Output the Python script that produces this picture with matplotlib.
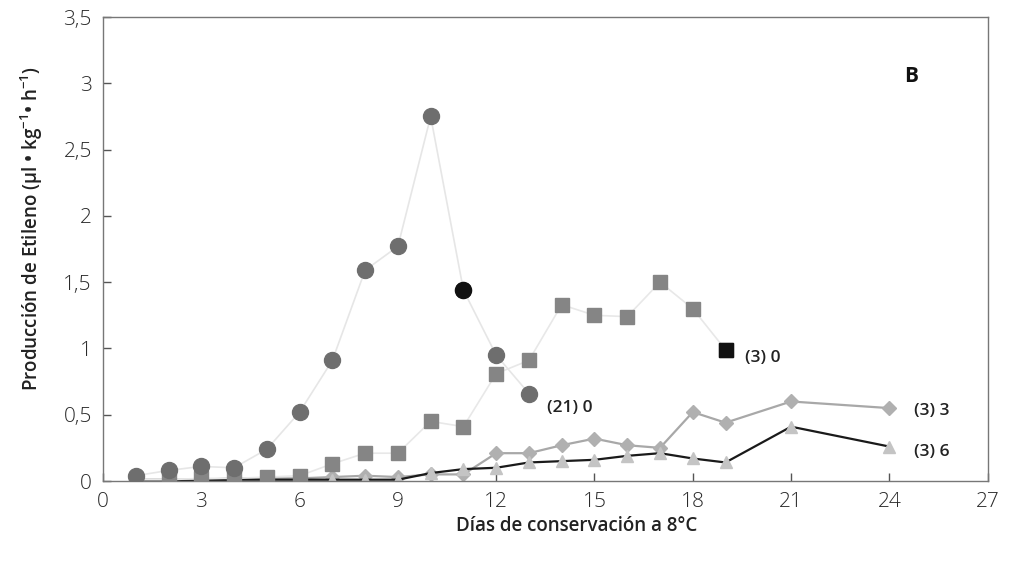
import matplotlib
matplotlib.use("Agg")
import matplotlib.pyplot as plt
from matplotlib.ticker import FuncFormatter, MultipleLocator

# Days of storage at 8 °C
days_21_0 = [1, 2, 3, 4, 5, 6, 7, 8, 9, 10, 11, 12, 13]
eth_21_0 = [0.04, 0.08, 0.11, 0.10, 0.24, 0.52, 0.91, 1.59, 1.77, 2.75, 1.44, 0.95, 0.66]

days_3_0 = [1, 2, 3, 4, 5, 6, 7, 8, 9, 10, 11, 12, 13, 14, 15, 16, 17, 18, 19]
eth_3_0 = [0.01, 0.01, 0.02, 0.02, 0.03, 0.04, 0.13, 0.21, 0.21, 0.45, 0.41, 0.81, 0.91,
           1.33, 1.25, 1.24, 1.50, 1.30, 0.99]

days_3_3 = [1, 2, 3, 4, 5, 6, 7, 8, 9, 10, 11, 12, 13, 14, 15, 16, 17, 18, 19, 21, 24]
eth_3_3 = [0.01, 0.01, 0.01, 0.02, 0.02, 0.02, 0.03, 0.04, 0.03, 0.05, 0.05, 0.21, 0.21,
           0.27, 0.32, 0.27, 0.25, 0.52, 0.44, 0.60, 0.55]

days_3_6 = [1, 2, 3, 4, 5, 6, 7, 8, 9, 10, 11, 12, 13, 14, 15, 16, 17, 18, 19, 21, 24]
eth_3_6 = [0.0, 0.0, 0.0, 0.01, 0.01, 0.01, 0.01, 0.01, 0.01, 0.06, 0.09, 0.10, 0.14,
           0.15, 0.16, 0.19, 0.21, 0.17, 0.14, 0.41, 0.26]

series_labels = ["(21) 0", "(3) 0", "(3) 3", "(3) 6"]
panel_label = "B"

plt.rcParams["font.family"] = ["Open Sans", "DejaVu Sans"]
plt.rcParams["mathtext.fontset"] = "custom"
plt.rcParams["mathtext.rm"] = "Open Sans:semibold"
plt.rcParams["mathtext.it"] = "Open Sans:semibold"

fig = plt.figure(figsize=(10.11, 5.63), dpi=100)
ax = fig.add_axes([0.1019, 0.1456, 0.875, 0.8242])

ax.plot(days_21_0, eth_21_0, color="#e6e6e6", lw=1.2, marker="o", ms=11.5,
        mfc="#6e6e6e", mec="#6e6e6e", zorder=4)
ax.plot(days_3_0, eth_3_0, color="#e8e8e8", lw=1.2, marker="s", ms=10,
        mfc="#858585", mec="#858585", zorder=3)
ax.plot(days_3_3, eth_3_3, color="#a8a8a8", lw=1.6, marker="D", ms=7,
        mfc="#b0b0b0", mec="#b0b0b0", zorder=2)
ax.plot(days_3_6, eth_3_6, color="#1a1a1a", lw=1.6, marker="^", ms=9,
        mfc="#c4c4c4", mec="#c4c4c4", zorder=2.5)

# darker emphasised points
ax.plot(days_21_0[10], eth_21_0[10], marker="o", ms=11.5, color="#111111", ls="none", zorder=5)
ax.plot(days_3_0[-1], eth_3_0[-1], marker="s", ms=10, color="#111111", ls="none", zorder=5)

lbl_kw = dict(fontsize=12.5, fontweight="semibold", color="#222222", va="center", ha="left")
ax.text(13.55, 0.55, series_labels[0], **lbl_kw)
ax.text(19.6, 0.93, series_labels[1], **lbl_kw)
ax.text(24.75, 0.53, series_labels[2], **lbl_kw)
ax.text(24.75, 0.22, series_labels[3], **lbl_kw)
ax.text(24.45, 3.05, panel_label, fontsize=15, fontweight="bold", color="#111111",
        va="center", ha="left")

ax.set_xlim(0, 27)
ax.set_ylim(0, 3.5)
ax.xaxis.set_major_locator(MultipleLocator(3))
ax.yaxis.set_major_locator(MultipleLocator(0.5))
ax.yaxis.set_major_formatter(FuncFormatter(lambda v, p: f"{v:g}".replace(".", ",")))

ax.tick_params(direction="in", length=6, width=1, color="#555555", labelsize=15,
               labelcolor="#2a2a2a", pad=8)
for lbl in ax.get_xticklabels() + ax.get_yticklabels():
    lbl.set_fontweight("light")
for s in ax.spines.values():
    s.set_color("#777777")
    s.set_linewidth(1.0)

ax.set_xlabel("Días de conservación a 8°C", fontsize=13.5, fontweight="semibold",
              color="#222222", labelpad=5)
ax.set_ylabel(r"Producción de Etileno ($\mu$l • kg$^{-1}$• h$^{-1}$)", fontsize=13.5,
              fontweight="semibold", color="#222222", labelpad=8)
ax.xaxis.set_label_coords(0.535, -0.075)
ax.yaxis.set_label_coords(-0.066, 0.545)

fig.savefig("out.png", dpi=100)
